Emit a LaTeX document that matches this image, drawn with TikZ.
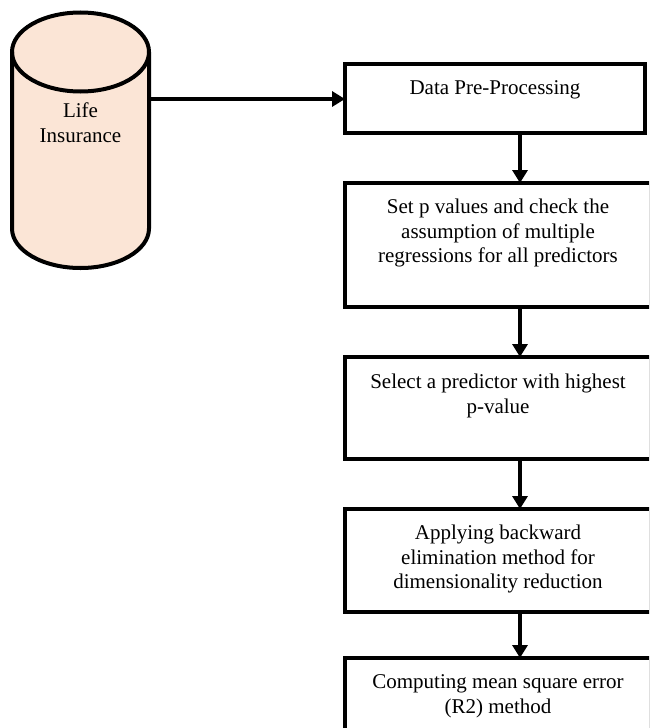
\documentclass[tikz,border=0pt]{standalone}
\usepackage{fontspec}
\setmainfont{Liberation Serif}
\usetikzlibrary{arrows.meta}
\definecolor{peach}{HTML}{FBE5D6}
\begin{document}
\begin{tikzpicture}[x=1pt,y=1pt,
  boxnode/.style={draw=black, line width=4pt, rectangle, inner sep=0pt, outer sep=0pt, anchor=north west},
  txt/.style={font=\fontsize{21}{24.5}\selectfont, align=center, inner sep=0pt, outer sep=0pt, anchor=north},
  conn/.style={line width=4pt, -{Triangle[length=13pt,width=15pt]}}]
\useasboundingbox (0,0) rectangle (649,-728);
\clip (0,0) rectangle (649,-728);
% cylinder
\path[fill=peach, draw=black, line width=4pt] (12,-52) -- (12,-228.5) arc (180:360:68.5 and 39.5) -- (149,-52) arc (0:180:68.5 and 39.5) -- cycle;
\draw[line width=4pt] (12,-52) arc (180:360:68.5 and 39.5);
\node[inner sep=0pt, outer sep=0pt, minimum width=137pt, minimum height=255pt] (cyl) at (80.5,-140.5) {};
\node[txt] (lbl) at (80.5,-103) {Life\\Insurance};
% boxes
\node[boxnode, minimum width=300pt, minimum height=69pt] (b1) at (345,-64) {};
\node[boxnode, minimum width=306pt, minimum height=124pt] (b2) at (345,-183) {};
\node[boxnode, minimum width=306pt, minimum height=102pt] (b3) at (345,-357) {};
\node[boxnode, minimum width=306pt, minimum height=103pt] (b4) at (345,-509) {};
\node[boxnode, minimum width=306pt, minimum height=90pt] (b5) at (345,-658) {};
% texts
\node[txt] (t1) at ([yshift=-17pt]b1.north) {Data Pre-Processing};
\node[txt] (t2) at ([yshift=-16pt]b2.north) {Set p values and check the\\assumption of multiple\\regressions for all predictors};
\node[txt] (t3) at ([yshift=-17pt]b3.north) {Select a predictor with highest\\p-value};
\node[txt] (t4) at ([yshift=-16pt]b4.north) {Applying backward\\elimination method for\\dimensionality reduction};
\node[txt] (t5) at ([yshift=-17pt]b5.north) {Computing mean square error\\(R2) method};
% connectors
\coordinate (ax) at (520,0);
\coordinate (ay) at (0,-99);
\draw[conn] (cyl.east |- ay) -- (b1.west |- ay);
\draw[conn] (b1.south -| ax) -- (b2.north -| ax);
\draw[conn] (b2.south -| ax) -- (b3.north -| ax);
\draw[conn] (b3.south -| ax) -- (b4.north -| ax);
\draw[conn] (b4.south -| ax) -- (b5.north -| ax);
\end{tikzpicture}
\end{document}
